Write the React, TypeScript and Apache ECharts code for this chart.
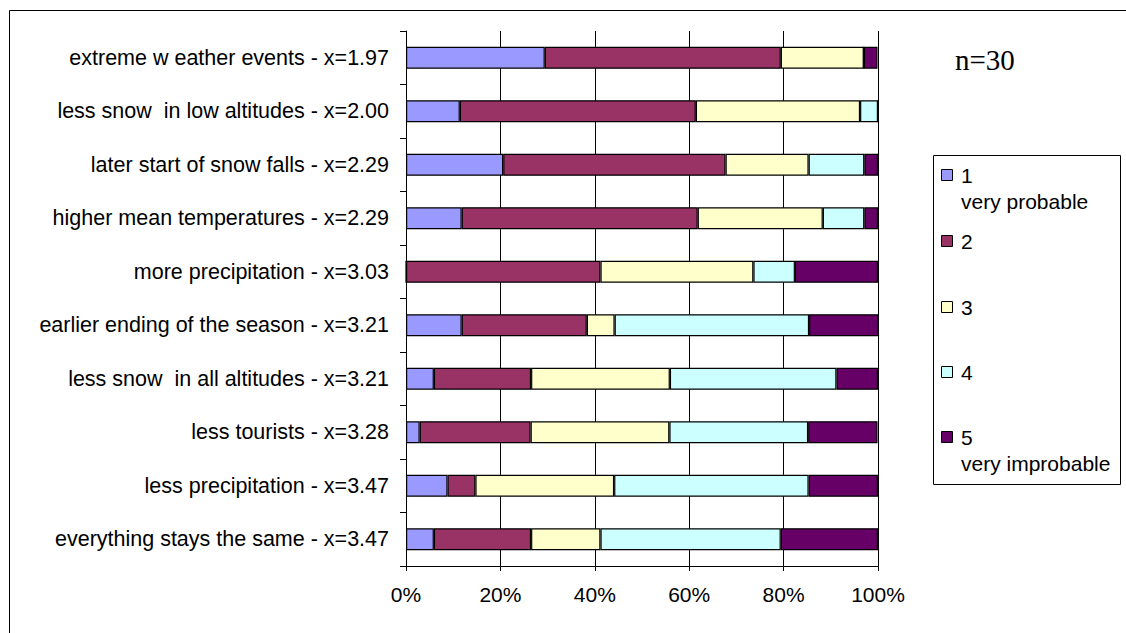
import React, { useEffect, useRef } from "react";
import * as echarts from "echarts";

// Statements about expected climate effects, top to bottom
const categories = [
  "extreme w eather events - x=1.97",
  "less snow  in low altitudes - x=2.00",
  "later start of snow falls - x=2.29",
  "higher mean temperatures - x=2.29",
  "more precipitation - x=3.03",
  "earlier ending of the season - x=3.21",
  "less snow  in all altitudes - x=3.21",
  "less tourists - x=3.28",
  "less precipitation - x=3.47",
  "everything stays the same - x=3.47",
];

// Share of answers per rating (percent of respondents)
const rating1 = [29.4, 11.4, 20.6, 11.8, 0, 11.8, 5.9, 2.9, 8.8, 5.9];
const rating2 = [50.0, 50.0, 47.1, 50.0, 41.2, 26.5, 20.6, 23.5, 5.9, 20.6];
const rating3 = [17.6, 34.8, 17.6, 26.5, 32.4, 5.9, 29.4, 29.4, 29.4, 14.7];
const rating4 = [0, 3.8, 11.8, 8.8, 8.8, 41.2, 35.3, 29.4, 41.2, 38.2];
const rating5 = [2.9, 0, 2.9, 2.9, 17.6, 14.7, 8.8, 14.7, 14.7, 20.6];

const ratingNames = ["1", "2", "3", "4", "5"];
const ratingNotes = ["very probable", "", "", "", "very improbable"];
const ratingColors = ["#9999FF", "#993366", "#FFFFCC", "#CCFFFF", "#660066"];
const xTicks = [0, 20, 40, 60, 80, 100];

const FONT = "Liberation Sans, Arial, sans-serif";

export default function App() {
  const ref = useRef<HTMLDivElement>(null);

  useEffect(() => {
    if (!ref.current) return;
    const chart = echarts.init(ref.current, null, { renderer: "svg" });
    const values = [rating1, rating2, rating3, rating4, rating5];

    const legendTop = [175, 241, 307, 372, 437];
    const legendItems: any[] = [];
    ratingNames.forEach((name, i) => {
      legendItems.push({
        type: "rect",
        shape: { x: 941.5, y: legendTop[i] - 5.5, width: 11, height: 11 },
        style: { fill: ratingColors[i], stroke: "#000", lineWidth: 1 },
      });
      legendItems.push({
        type: "text",
        x: 961,
        y: legendTop[i],
        style: {
          text: name,
          font: `21px ${FONT}`,
          fill: "#000",
          verticalAlign: "middle",
        },
      });
      if (ratingNotes[i]) {
        legendItems.push({
          type: "text",
          x: 961,
          y: legendTop[i] + 26,
          style: {
            text: ratingNotes[i],
            font: `21px ${FONT}`,
            fill: "#000",
            verticalAlign: "middle",
          },
        });
      }
    });

    chart.setOption({
      animation: false,
      backgroundColor: "#fff",
      grid: { left: 406, right: 248, top: 31, bottom: 67, containLabel: false },
      xAxis: {
        type: "value",
        min: 0,
        max: 100,
        interval: 20,
        axisLine: { show: true, lineStyle: { color: "#000", width: 1 } },
        axisTick: { show: true, length: 5, lineStyle: { color: "#000" } },
        splitLine: { show: true, lineStyle: { color: "#000", width: 1 } },
        axisLabel: {
          color: "#000",
          fontFamily: FONT,
          fontSize: 21,
          margin: 18,
          formatter: (v: number) => (xTicks.includes(v) ? `${v}%` : ""),
        },
      },
      yAxis: {
        type: "category",
        data: categories,
        inverse: true,
        axisLine: { show: true, lineStyle: { color: "#000", width: 1 } },
        axisTick: { show: true, length: 6, lineStyle: { color: "#000" } },
        axisLabel: {
          color: "#000",
          fontFamily: FONT,
          fontSize: 21.5,
          margin: 17,
        },
      },
      series: values.map((data, i) => ({
        type: "bar",
        name: ratingNames[i],
        stack: "total",
        data,
        barWidth: 22,
        itemStyle: {
          color: ratingColors[i],
          borderColor: "#000",
          borderWidth: 1.2,
        },
      })),
      graphic: [
        {
          type: "rect",
          shape: { x: 9.5, y: 10.5, width: 1300, height: 800 },
          style: { fill: "none", stroke: "#000", lineWidth: 1 },
          silent: true,
        },
        {
          type: "text",
          x: 955,
          y: 60,
          style: {
            text: "n=30",
            font: `29px "Liberation Serif", "Times New Roman", serif`,
            fill: "#000",
            verticalAlign: "middle",
          },
        },
        {
          type: "rect",
          shape: { x: 933.5, y: 155.5, width: 187, height: 329 },
          style: { fill: "#fff", stroke: "#000", lineWidth: 1 },
        },
        ...legendItems,
      ],
    });

    return () => chart.dispose();
  }, []);

  return (
    <div
      ref={ref}
      style={{ position: "fixed", left: 0, top: 0, width: 1126, height: 633 }}
    />
  );
}
